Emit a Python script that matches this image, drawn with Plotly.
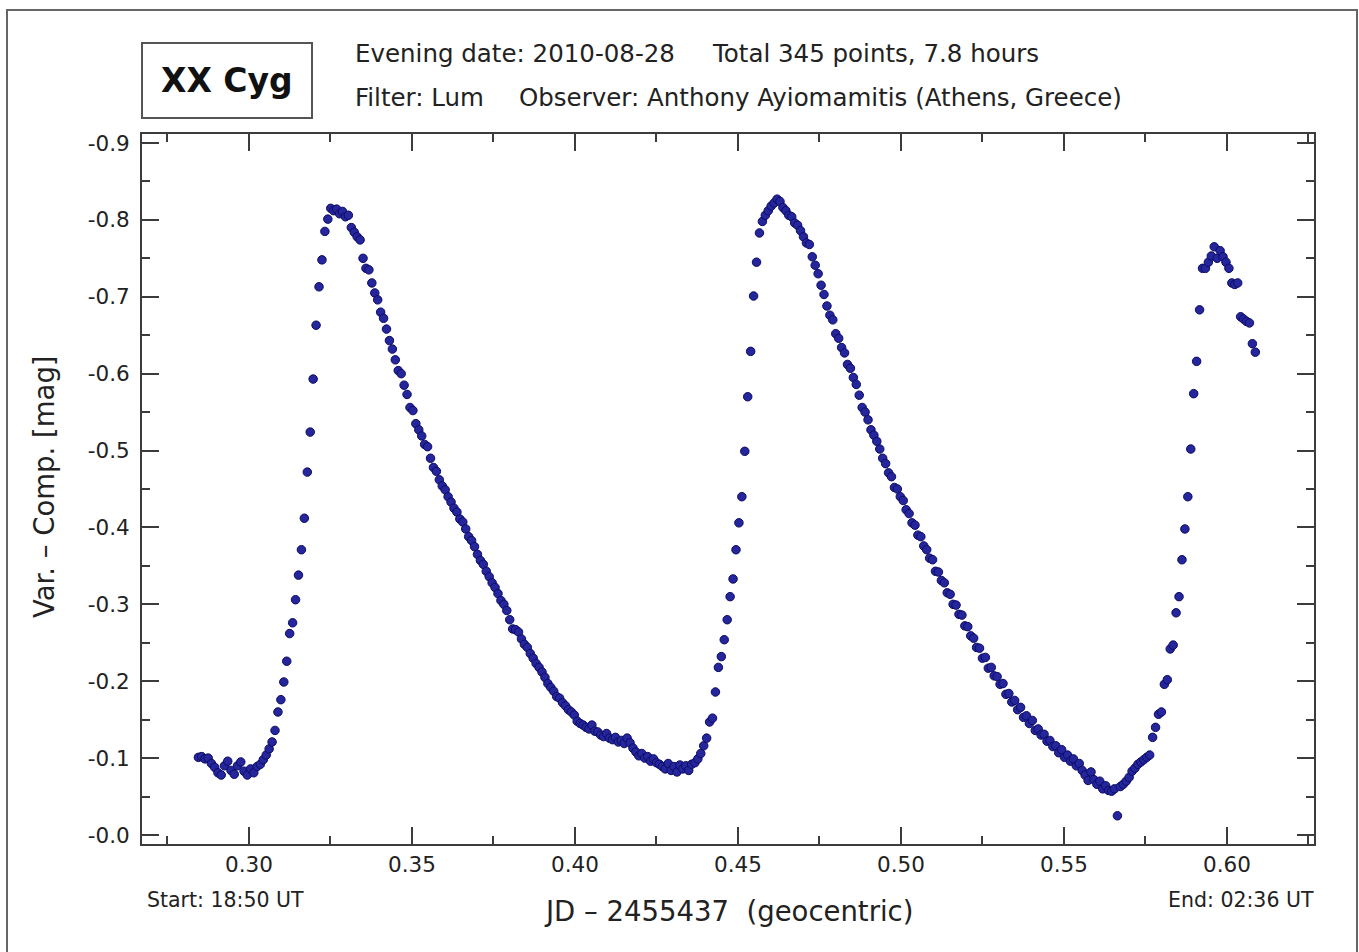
import plotly.graph_objects as go

# ---------------- data ----------------
jd_min1 = [0.2845, 0.2855, 0.2865, 0.2875, 0.2885, 0.2895, 0.2905, 0.2915, 0.2925, 0.2935,
           0.2945, 0.2955, 0.2965, 0.2975, 0.2985, 0.2995, 0.3005, 0.3015, 0.3025]
mag_min1 = [-0.101, -0.102, -0.099, -0.100, -0.093, -0.088, -0.081, -0.078, -0.090, -0.096,
            -0.084, -0.079, -0.090, -0.095, -0.083, -0.078, -0.086, -0.081, -0.089]

jd_rise1 = [0.3035, 0.3044, 0.3053, 0.3062, 0.3071, 0.3080, 0.3089, 0.3098, 0.3107, 0.3116,
            0.3125, 0.3134, 0.3143, 0.3152, 0.3161, 0.3170, 0.3179, 0.3188, 0.3197, 0.3206,
            0.3215, 0.3224, 0.3233, 0.3242]
mag_rise1 = [-0.092, -0.098, -0.104, -0.112, -0.121, -0.136, -0.160, -0.176, -0.199, -0.226,
             -0.262, -0.276, -0.306, -0.338, -0.371, -0.412, -0.472, -0.524, -0.593, -0.663,
             -0.713, -0.748, -0.785, -0.801]

jd_fall1 = [0.3251, 0.3260, 0.3269, 0.3278, 0.3287, 0.3296, 0.3305, 0.3314, 0.3323, 0.3332,
            0.3341, 0.3350, 0.3359, 0.3368, 0.3377, 0.3386, 0.3395, 0.3404, 0.3413, 0.3422,
            0.3431, 0.3440, 0.3449, 0.3458, 0.3467, 0.3476, 0.3485, 0.3494, 0.3503, 0.3512,
            0.3521, 0.3530, 0.3539, 0.3548, 0.3557, 0.3566, 0.3575, 0.3584, 0.3593, 0.3602,
            0.3611, 0.3620, 0.3629, 0.3638, 0.3647, 0.3656, 0.3665, 0.3674, 0.3683, 0.3692,
            0.3701, 0.3710, 0.3719, 0.3728, 0.3737, 0.3746, 0.3755, 0.3764, 0.3773, 0.3782,
            0.3791, 0.3800, 0.3809, 0.3818, 0.3827, 0.3836, 0.3845, 0.3854, 0.3863, 0.3872,
            0.3881, 0.3890, 0.3899, 0.3908, 0.3917, 0.3926, 0.3935, 0.3944, 0.3953, 0.3962,
            0.3971, 0.3980, 0.3989, 0.3998, 0.4007, 0.4016, 0.4025, 0.4034, 0.4043, 0.4052,
            0.4061, 0.4070, 0.4079, 0.4088, 0.4097, 0.4106, 0.4115, 0.4124, 0.4133, 0.4142,
            0.4151, 0.4160, 0.4169, 0.4178, 0.4187, 0.4196, 0.4205, 0.4214, 0.4223, 0.4232,
            0.4241, 0.4250, 0.4259, 0.4268, 0.4277, 0.4286, 0.4295, 0.4304, 0.4313, 0.4322,
            0.4331, 0.4340, 0.4349, 0.4358]
mag_fall1 = [-0.815, -0.812, -0.814, -0.808, -0.811, -0.804, -0.806, -0.790, -0.784, -0.778,
             -0.774, -0.750, -0.737, -0.735, -0.718, -0.705, -0.696, -0.680, -0.672, -0.658,
             -0.643, -0.632, -0.618, -0.604, -0.600, -0.585, -0.573, -0.556, -0.552, -0.535,
             -0.527, -0.519, -0.508, -0.505, -0.490, -0.478, -0.473, -0.462, -0.454, -0.449,
             -0.440, -0.433, -0.425, -0.420, -0.411, -0.407, -0.398, -0.388, -0.383, -0.375,
             -0.365, -0.357, -0.352, -0.343, -0.336, -0.328, -0.322, -0.314, -0.305, -0.300,
             -0.292, -0.280, -0.268, -0.267, -0.264, -0.255, -0.248, -0.244, -0.236, -0.230,
             -0.223, -0.218, -0.212, -0.205, -0.197, -0.192, -0.187, -0.180, -0.178, -0.172,
             -0.168, -0.163, -0.160, -0.156, -0.148, -0.145, -0.143, -0.140, -0.138, -0.143,
             -0.135, -0.134, -0.130, -0.128, -0.132, -0.126, -0.124, -0.127, -0.121, -0.123,
             -0.119, -0.126, -0.120, -0.113, -0.108, -0.103, -0.106, -0.100, -0.102, -0.096,
             -0.099, -0.094, -0.092, -0.089, -0.086, -0.093, -0.084, -0.089, -0.082, -0.091,
             -0.086, -0.090, -0.084, -0.092]

jd_rise2 = [0.4368, 0.4377, 0.4386, 0.4395, 0.4404, 0.4413, 0.4422, 0.4431, 0.4440, 0.4449,
            0.4458, 0.4467, 0.4476, 0.4485, 0.4494, 0.4503, 0.4512, 0.4521, 0.4530, 0.4539,
            0.4548, 0.4557, 0.4566, 0.4575, 0.4584, 0.4593, 0.4602, 0.4611, 0.4620, 0.4629,
            0.4638, 0.4647, 0.4656, 0.4665, 0.4674, 0.4683, 0.4692]
mag_rise2 = [-0.094, -0.099, -0.106, -0.116, -0.126, -0.147, -0.152, -0.186, -0.218, -0.232,
             -0.254, -0.280, -0.310, -0.333, -0.371, -0.406, -0.440, -0.499, -0.570, -0.629,
             -0.701, -0.745, -0.783, -0.798, -0.806, -0.812, -0.818, -0.822, -0.827, -0.824,
             -0.816, -0.812, -0.806, -0.804, -0.796, -0.793, -0.786]

jd_fall2 = [0.4701, 0.4710, 0.4719, 0.4728, 0.4737, 0.4746, 0.4755, 0.4764, 0.4773, 0.4782,
            0.4791, 0.4800, 0.4809, 0.4818, 0.4827, 0.4836, 0.4845, 0.4854, 0.4863, 0.4872,
            0.4881, 0.4890, 0.4899, 0.4908, 0.4917, 0.4926, 0.4935, 0.4944, 0.4953, 0.4962,
            0.4971, 0.4980, 0.4989, 0.4998, 0.5007, 0.5016, 0.5025, 0.5034, 0.5043, 0.5052,
            0.5061, 0.5070, 0.5079, 0.5088, 0.5097, 0.5106, 0.5115, 0.5124, 0.5133, 0.5142,
            0.5151, 0.5160, 0.5169, 0.5178, 0.5187, 0.5196, 0.5205, 0.5214, 0.5223, 0.5232,
            0.5241, 0.5250, 0.5259, 0.5268, 0.5277, 0.5286, 0.5295, 0.5304, 0.5313, 0.5322,
            0.5331, 0.5340, 0.5349, 0.5358, 0.5367, 0.5376, 0.5385, 0.5394, 0.5403, 0.5412,
            0.5421, 0.5430, 0.5439, 0.5448, 0.5457, 0.5466, 0.5475, 0.5484, 0.5493, 0.5502,
            0.5511, 0.5520, 0.5529, 0.5538, 0.5547, 0.5556, 0.5565, 0.5574, 0.5583, 0.5592,
            0.5601, 0.5610, 0.5619, 0.5628, 0.5637, 0.5646, 0.5655, 0.5664, 0.5673, 0.5682,
            0.5691, 0.5700, 0.5709, 0.5718, 0.5727, 0.5736, 0.5745, 0.5754, 0.5763]
mag_fall2 = [-0.778, -0.770, -0.768, -0.752, -0.741, -0.730, -0.715, -0.703, -0.688, -0.676,
             -0.670, -0.652, -0.646, -0.634, -0.627, -0.612, -0.607, -0.595, -0.586, -0.572,
             -0.556, -0.550, -0.540, -0.527, -0.520, -0.512, -0.502, -0.490, -0.483, -0.471,
             -0.466, -0.452, -0.450, -0.440, -0.435, -0.423, -0.418, -0.406, -0.403, -0.390,
             -0.388, -0.376, -0.371, -0.360, -0.358, -0.343, -0.342, -0.331, -0.328, -0.315,
             -0.313, -0.300, -0.299, -0.287, -0.286, -0.272, -0.271, -0.259, -0.256, -0.244,
             -0.243, -0.230, -0.231, -0.217, -0.218, -0.207, -0.206, -0.196, -0.197, -0.183,
             -0.184, -0.173, -0.175, -0.163, -0.166, -0.153, -0.155, -0.145, -0.149, -0.136,
             -0.138, -0.130, -0.131, -0.122, -0.123, -0.115, -0.116, -0.107, -0.111, -0.101,
             -0.104, -0.096, -0.099, -0.090, -0.093, -0.084, -0.078, -0.071, -0.082, -0.072,
             -0.066, -0.070, -0.060, -0.064, -0.058, -0.057, -0.060, -0.025, -0.063, -0.066,
             -0.070, -0.075, -0.083, -0.087, -0.092, -0.095, -0.098, -0.101, -0.104]

jd_rise3 = [0.5772, 0.5781, 0.5790, 0.5799, 0.5808, 0.5817, 0.5826, 0.5835, 0.5844, 0.5853,
            0.5862, 0.5871, 0.5880, 0.5889, 0.5898, 0.5907, 0.5916, 0.5925, 0.5934, 0.5943,
            0.5952, 0.5961, 0.5970, 0.5979, 0.5988, 0.5997, 0.6006, 0.6015, 0.6024, 0.6033,
            0.6042, 0.6051, 0.6060, 0.6069, 0.6078, 0.6087]
mag_rise3 = [-0.127, -0.140, -0.157, -0.160, -0.196, -0.202, -0.242, -0.247, -0.289, -0.310,
             -0.358, -0.398, -0.440, -0.502, -0.574, -0.616, -0.683, -0.737, -0.737, -0.745,
             -0.753, -0.765, -0.750, -0.760, -0.752, -0.745, -0.737, -0.718, -0.716, -0.718,
             -0.674, -0.671, -0.668, -0.666, -0.639, -0.628]

x_tickvals = [0.30, 0.35, 0.40, 0.45, 0.50, 0.55, 0.60]
x_ticktext = ["0.30", "0.35", "0.40", "0.45", "0.50", "0.55", "0.60"]
y_tickvals = [-0.9, -0.8, -0.7, -0.6, -0.5, -0.4, -0.3, -0.2, -0.1, 0.0]
y_ticktext = ["-0.9", "-0.8", "-0.7", "-0.6", "-0.5", "-0.4", "-0.3", "-0.2", "-0.1", "-0.0"]

jd = jd_min1 + jd_rise1 + jd_fall1 + jd_rise2 + jd_fall2 + jd_rise3
mag = mag_min1 + mag_rise1 + mag_fall1 + mag_rise2 + mag_fall2 + mag_rise3
assert len(jd) == len(mag)

# ---------------- layout helpers (pixel positions -> paper) ----------------
W, H = 1359, 952
PL, PR, PT, PB = 142, 1314, 134, 844


def px(x):
    return (x - PL) / (PR - PL)


def py(y):
    return (PB - y) / (PB - PT)


FONT = "DejaVu Sans"
AX = "#3c3c3c"
TXT = "#222"

fig = go.Figure()
fig.add_trace(go.Scatter(
    x=jd, y=mag, mode="markers",
    marker=dict(size=8.5, color="#25259c", line=dict(color="#0c0c66", width=1)),
    hoverinfo="x+y",
))

axis_common = dict(
    showgrid=False, zeroline=False, showline=True, linewidth=2, linecolor=AX,
    mirror="ticks", ticks="inside", ticklen=17, tickwidth=1.5, tickcolor=AX,
    tickfont=dict(family=FONT, size=21.5, color=TXT),
)

fig.update_layout(
    width=W, height=H,
    margin=dict(l=PL, r=W - PR, t=PT, b=H - PB, autoexpand=False),
    paper_bgcolor="white", plot_bgcolor="white",
    showlegend=False,
    xaxis=dict(
        range=[0.2672, 0.6267], tickmode="array", tickvals=x_tickvals, ticktext=x_ticktext,
        minor=dict(tickmode="linear", tick0=0.275, dtick=0.05, ticks="inside", ticklen=8,
                   tickwidth=1.5, tickcolor=AX),
        ticklabelstandoff=0,
        **axis_common,
    ),
    yaxis=dict(
        range=[0.0117, -0.9117], tickmode="array", tickvals=y_tickvals, ticktext=y_ticktext,
        minor=dict(tickmode="linear", tick0=0.05, dtick=0.1, ticks="inside", ticklen=8,
                   tickwidth=1.5, tickcolor=AX),
        ticklabelstandoff=6,
        **axis_common,
    ),
)

shapes = [
    # outer frame
    dict(type="rect", xref="paper", yref="paper", x0=px(7), x1=px(1357), y0=py(962), y1=py(10),
         line=dict(color="#666", width=2), fillcolor="rgba(0,0,0,0)", layer="below"),
    # star name box
    dict(type="rect", xref="paper", yref="paper", x0=px(142), x1=px(312), y0=py(118), y1=py(43),
         line=dict(color="#555", width=2), fillcolor="white"),
]
fig.update_layout(shapes=shapes)

HS = 24.5
annots = [
    dict(text="<b>XX Cyg</b>", x=px(227), y=py(80), xanchor="center", yanchor="middle",
         font=dict(family=FONT, size=33, color="#111")),
    dict(text="Evening date: 2010-08-28", x=px(353), y=py(54), xanchor="left", yanchor="middle",
         font=dict(family=FONT, size=HS, color=TXT)),
    dict(text="Total 345 points, 7.8 hours", x=px(710), y=py(54), xanchor="left", yanchor="middle",
         font=dict(family=FONT, size=HS, color=TXT)),
    dict(text="Filter: Lum", x=px(353), y=py(97), xanchor="left", yanchor="middle",
         font=dict(family=FONT, size=HS, color=TXT)),
    dict(text="Observer: Anthony Ayiomamitis (Athens, Greece)", x=px(517), y=py(97),
         xanchor="left", yanchor="middle", font=dict(family=FONT, size=HS, color=TXT)),
    dict(text="JD \u2013 2455437  (geocentric)", x=px(728), y=py(911), xanchor="center",
         yanchor="middle", font=dict(family=FONT, size=27.5, color=TXT)),
    dict(text="Var. \u2013 Comp. [mag]", x=px(44), y=py(487), xanchor="center", yanchor="middle",
         textangle=-90, font=dict(family=FONT, size=27.5, color=TXT)),
    dict(text="Start: 18:50 UT", x=px(145), y=py(900), xanchor="left", yanchor="middle",
         font=dict(family=FONT, size=20.5, color=TXT)),
    dict(text="End: 02:36 UT", x=px(1316), y=py(900), xanchor="right", yanchor="middle",
         font=dict(family=FONT, size=20.5, color=TXT)),
]
for a in annots:
    a.update(xref="paper", yref="paper", showarrow=False)
fig.update_layout(annotations=annots)

fig.write_html("out.html", config={"displayModeBar": False},
               post_script="document.body.style.margin='0px';")
